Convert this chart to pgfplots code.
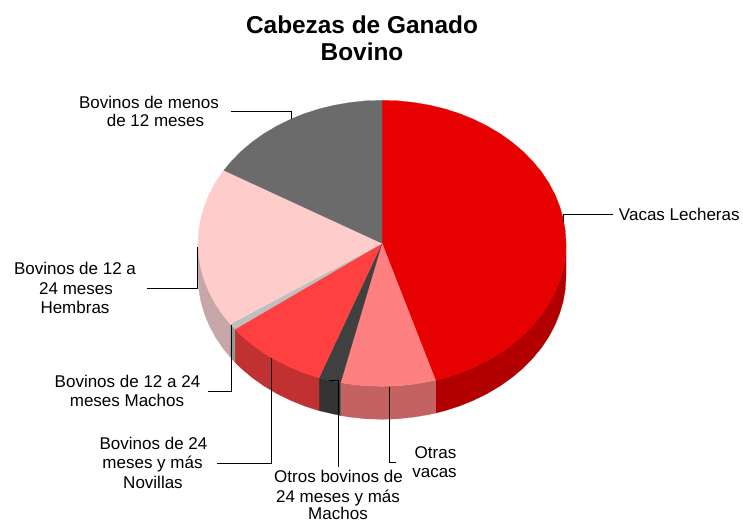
\documentclass[border=0pt]{standalone}
\usepackage{fontspec}
\setmainfont{Liberation Sans}
\usepackage{pgfplots}
\pgfplotsset{compat=1.18}
\definecolor{cRed}{RGB}{230,0,0}
\definecolor{cRedS}{RGB}{178,0,0}
\definecolor{cOtr}{RGB}{255,128,128}
\definecolor{cOtrS}{RGB}{196,98,98}
\definecolor{cDk}{RGB}{64,64,64}
\definecolor{cDkS}{RGB}{51,51,51}
\definecolor{cNov}{RGB}{255,64,64}
\definecolor{cNovS}{RGB}{194,49,49}
\definecolor{cGr}{RGB}{191,191,191}
\definecolor{cGrS}{RGB}{150,150,150}
\definecolor{cPk}{RGB}{255,204,204}
\definecolor{cPkS}{RGB}{198,166,166}
\definecolor{cGy}{RGB}{107,107,107}
\pgfplotsset{slice/.style={draw=#1,fill=#1,line width=0.2pt,no markers,forget plot},
 leader/.style={draw=black,line width=0.8pt,no markers,forget plot,sharp plot}}
\newcommand{\lab}[4][17pt]{\node[anchor=base,inner sep=0pt,font=\fontsize{#1}{#1}\selectfont] at (axis cs:#2,#3) {#4};}
\begin{document}
\begin{tikzpicture}
\begin{axis}[hide axis,scale only axis,width=743pt,height=520pt,xmin=0,xmax=743,ymin=0,ymax=520,y dir=reverse,clip=false,anchor=south west,at={(0,0)}]
% --- sides ---
\addplot[slice=cRedS] coordinates {(566,243.3)(565.3,255.8)(563.2,268.1)(559.7,280.3)(554.9,292.2)(548.8,303.7)(541.4,314.8)(532.7,325.3)(523.0,335.2)(512.1,344.4)(500.3,352.8)(487.5,360.4)(474.0,367.1)(459.8,372.9)(444.9,377.7)(435.5,380.1)
 (435.5,413.1)(444.9,410.7)(459.8,405.9)(474.0,400.1)(487.5,393.4)(500.3,385.8)(512.1,377.4)(523.0,368.2)(532.7,358.3)(541.4,347.8)(548.8,336.7)(554.9,325.2)(559.7,313.3)(563.2,301.1)(565.3,288.8)(566,276.3)} --cycle;
\addplot[slice=cOtrS] coordinates {(435.5,380.1)(429.6,381.4)(414.0,384.1)(398.0,385.8)(382,386.3)(366.0,385.8)(350.0,384.1)(340.6,382.6)
 (340.6,415.6)(350.0,417.1)(366.0,418.8)(382,419.3)(398.0,418.8)(414.0,417.1)(429.6,414.4)(435.5,413.1)} --cycle;
\addplot[slice=cDkS] coordinates {(340.6,382.6)(319.1,377.7)(319.1,410.7)(340.6,415.6)} --cycle;
\addplot[slice=cNovS] coordinates {(319.1,377.7)(304.2,372.9)(290.0,367.1)(276.5,360.4)(263.7,352.8)(251.9,344.4)(241.0,335.2)(234.9,329.2)
 (234.9,362.2)(241.0,368.2)(251.9,377.4)(263.7,385.8)(276.5,393.4)(290.0,400.1)(304.2,405.9)(319.1,410.7)} --cycle;
\addplot[slice=cGrS] coordinates {(234.9,329.2)(231.3,325.3)(230.2,324.1)(230.2,357.1)(231.3,358.3)(234.9,362.2)} --cycle;
\addplot[slice=cPkS] coordinates {(230.2,324.1)(222.6,314.8)(215.2,303.7)(209.1,292.2)(204.3,280.3)(200.8,268.1)(198.7,255.8)(198,243.3)
 (198,276.3)(198.7,288.8)(200.8,301.1)(204.3,313.3)(209.1,325.2)(215.2,336.7)(222.6,347.8)(230.2,357.1)} --cycle;
% --- top faces ---
\addplot[slice=cRed] coordinates {(382,243.3)(382,100.3)(398.0,100.8)(414.0,102.5)(429.6,105.2)(444.9,108.9)(459.8,113.7)(474.0,119.5)(487.5,126.2)(500.3,133.8)(512.1,142.2)(523.0,151.4)(532.7,161.3)(541.4,171.8)(548.8,182.9)(554.9,194.4)(559.7,206.3)(563.2,218.5)(565.3,230.8)(566,243.3)(565.3,255.8)(563.2,268.1)(559.7,280.3)(554.9,292.2)(548.8,303.7)(541.4,314.8)(532.7,325.3)(523.0,335.2)(512.1,344.4)(500.3,352.8)(487.5,360.4)(474.0,367.1)(459.8,372.9)(444.9,377.7)(435.5,380.1)} --cycle;
\addplot[slice=cOtr] coordinates {(382,243.3)(435.5,380.1)(429.6,381.4)(414.0,384.1)(398.0,385.8)(382,386.3)(366.0,385.8)(350.0,384.1)(340.6,382.6)} --cycle;
\addplot[slice=cDk] coordinates {(382,243.3)(340.6,382.6)(319.1,377.7)} --cycle;
\addplot[slice=cNov] coordinates {(382,243.3)(319.1,377.7)(304.2,372.9)(290.0,367.1)(276.5,360.4)(263.7,352.8)(251.9,344.4)(241.0,335.2)(234.9,329.2)} --cycle;
\addplot[slice=cGr] coordinates {(382,243.3)(234.9,329.2)(231.3,325.3)(230.2,324.1)} --cycle;
\addplot[slice=cPk] coordinates {(382,243.3)(230.2,324.1)(222.6,314.8)(215.2,303.7)(209.1,292.2)(204.3,280.3)(200.8,268.1)(198.7,255.8)(198,243.3)(198.7,230.8)(200.8,218.5)(204.3,206.3)(209.1,194.4)(215.2,182.9)(222.6,171.8)(223.8,170.3)} --cycle;
\addplot[slice=cGy] coordinates {(382,243.3)(223.8,170.3)(231.3,161.3)(241.0,151.4)(251.9,142.2)(263.7,133.8)(276.5,126.2)(290.0,119.5)(304.2,113.7)(319.1,108.9)(334.4,105.2)(350.0,102.5)(366.0,100.8)(382,100.3)} --cycle;
% --- leaders ---
\addplot[leader] coordinates {(230.7,111)(291.3,111)(291.3,119)};
\addplot[leader] coordinates {(613.3,214)(563.3,214)(563.3,222)};
\addplot[leader] coordinates {(197.3,246.7)(197.3,288.3)(147,288.3)};
\addplot[leader] coordinates {(231.3,325)(231.3,391.3)(208.3,391.3)};
\addplot[leader] coordinates {(271.7,358.3)(271.7,463)(217,463)};
\addplot[leader] coordinates {(329.3,380.7)(338.7,380.7)(338.7,466.7)};
\addplot[leader] coordinates {(389.3,386.7)(389.3,462.7)(396,462.7)};
% --- text ---
\node[anchor=base,inner sep=0pt,font=\fontsize{24.4pt}{28pt}\selectfont\bfseries] at (axis cs:362,33) {Cabezas de Ganado};
\node[anchor=base,inner sep=0pt,font=\fontsize{24.4pt}{28pt}\selectfont\bfseries] at (axis cs:362,60) {Bovino};
\lab{149}{108}{Bovinos de menos}
\lab{155.5}{126}{de 12 meses}
\lab{679.3}{220}{Vacas Lecheras}
\lab{75}{274}{Bovinos de 12 a}
\lab{76}{294}{24 meses}
\lab{75}{313}{Hembras}
\lab{127.5}{387}{Bovinos de 12 a 24}
\lab{127}{406}{meses Machos}
\lab{153.5}{449}{Bovinos de 24}
\lab{152.5}{468}{meses y más}
\lab{153}{488}{Novillas}
\lab{338.5}{482}{Otros bovinos de}
\lab{338}{502}{24 meses y más}
\lab{338}{519.5}{Machos}
\lab{435.5}{458.3}{Otras}
\lab{434.5}{477.3}{vacas}
\end{axis}
\pgfresetboundingbox
\path[use as bounding box] (0,0) rectangle (743pt,520pt);
\end{tikzpicture}
\end{document}
